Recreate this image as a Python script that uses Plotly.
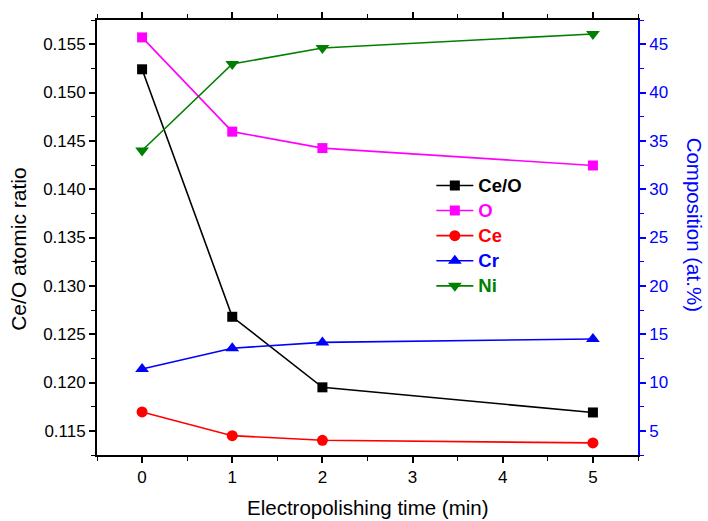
import plotly.graph_objects as go

time_min = [0, 1, 2, 5]
ce_o_ratio = [0.1524, 0.1268, 0.1195, 0.1169]
o_comp = [45.7, 35.95, 34.25, 32.45]
ce_comp = [6.95, 4.5, 4.02, 3.75]
cr_comp = [11.4, 13.55, 14.15, 14.5]
ni_comp = [34.0, 42.95, 44.6, 46.05]

FONT = "Arial, Liberation Sans, sans-serif"

def lname(txt, color):
    return f"<b><span style='color:{color};font-size:18.5px'>{txt}</span></b>"

fig = go.Figure()
fig.add_trace(go.Scatter(x=time_min, y=ce_o_ratio, mode="lines+markers",
                         name=lname("Ce/O", "#000000"),
                         line=dict(color="#000000", width=1.6),
                         marker=dict(symbol="square", size=10, color="#000000")))
fig.add_trace(go.Scatter(x=time_min, y=o_comp, mode="lines+markers", yaxis="y2",
                         name=lname("O", "#FF00FF"),
                         line=dict(color="#FF00FF", width=1.6),
                         marker=dict(symbol="square", size=10, color="#FF00FF")))
fig.add_trace(go.Scatter(x=time_min, y=ce_comp, mode="lines+markers", yaxis="y2",
                         name=lname("Ce", "#FF0000"),
                         line=dict(color="#FF0000", width=1.6),
                         marker=dict(symbol="circle", size=11, color="#FF0000")))
fig.add_trace(go.Scatter(x=time_min, y=cr_comp, mode="lines+markers", yaxis="y2",
                         name=lname("Cr", "#0000FF"),
                         line=dict(color="#0000FF", width=1.6),
                         marker=dict(symbol="triangle-up", size=12, color="#0000FF")))
fig.add_trace(go.Scatter(x=time_min, y=ni_comp, mode="lines+markers", yaxis="y2",
                         name=lname("Ni", "#008000"),
                         line=dict(color="#008000", width=1.6),
                         marker=dict(symbol="triangle-down", size=12, color="#008000")))

fig.update_layout(
    width=708, height=521,
    margin=dict(l=97, r=70, t=15, b=66),
    paper_bgcolor="white", plot_bgcolor="white",
    font=dict(family=FONT, size=17, color="black"),
    showlegend=True,
    legend=dict(x=0.618, y=0.66, xanchor="left", yanchor="top",
                bgcolor="rgba(0,0,0,0)", borderwidth=0,
                font=dict(family=FONT, size=17), itemwidth=37),
    xaxis=dict(range=[-0.5, 5.5], tickmode="array", tickvals=[0, 1, 2, 3, 4, 5],
               showline=True, linecolor="black", linewidth=1.8, mirror="ticks",
               ticks="outside", ticklen=6, tickwidth=1.5, tickcolor="black",
               minor=dict(tickmode="linear", dtick=0.5, ticks="outside", ticklen=4,
                          tickwidth=1.2, tickcolor="black"),
               showgrid=False, zeroline=False,
               tickfont=dict(family=FONT, size=17, color="black")),
    yaxis=dict(range=[0.1125, 0.1575], tickmode="linear", tick0=0.115, dtick=0.005,
               tickformat=".3f",
               showline=True, linecolor="black", linewidth=1.8,
               ticks="outside", ticklen=6, tickwidth=1.5, tickcolor="black",
               minor=dict(tickmode="linear", tick0=0.1125, dtick=0.0025, ticks="outside",
                          ticklen=4, tickwidth=1.2, tickcolor="black"),
               showgrid=False, zeroline=False,
               tickfont=dict(family=FONT, size=17, color="black")),
    yaxis2=dict(range=[2.5, 47.5], overlaying="y", side="right", anchor="x",
                tickmode="linear", tick0=5, dtick=5,
                showline=True, linecolor="#0000FF", linewidth=1.8,
                ticks="outside", ticklen=6, tickwidth=1.5, tickcolor="#0000FF",
                minor=dict(tickmode="linear", tick0=2.5, dtick=2.5, ticks="outside",
                           ticklen=4, tickwidth=1.2, tickcolor="#0000FF"),
                showgrid=False, zeroline=False,
                tickfont=dict(family=FONT, size=17, color="#0000FF")),
    annotations=[
        dict(text="Electropolishing time (min)", xref="paper", yref="paper",
             x=0.5, y=-0.12, xanchor="center", yanchor="middle", showarrow=False,
             font=dict(family=FONT, size=20.5, color="black")),
        dict(text="Ce/O atomic ratio", xref="paper", yref="paper",
             x=-0.145, y=0.473, xanchor="center", yanchor="middle", showarrow=False,
             textangle=-90, font=dict(family=FONT, size=21, color="black")),
        dict(text="Composition (at.%)", xref="paper", yref="paper",
             x=1.105, y=0.53, xanchor="center", yanchor="middle", showarrow=False,
             textangle=90, font=dict(family=FONT, size=20.5, color="#0000FF")),
    ],
)

fig.write_html("out.html")
